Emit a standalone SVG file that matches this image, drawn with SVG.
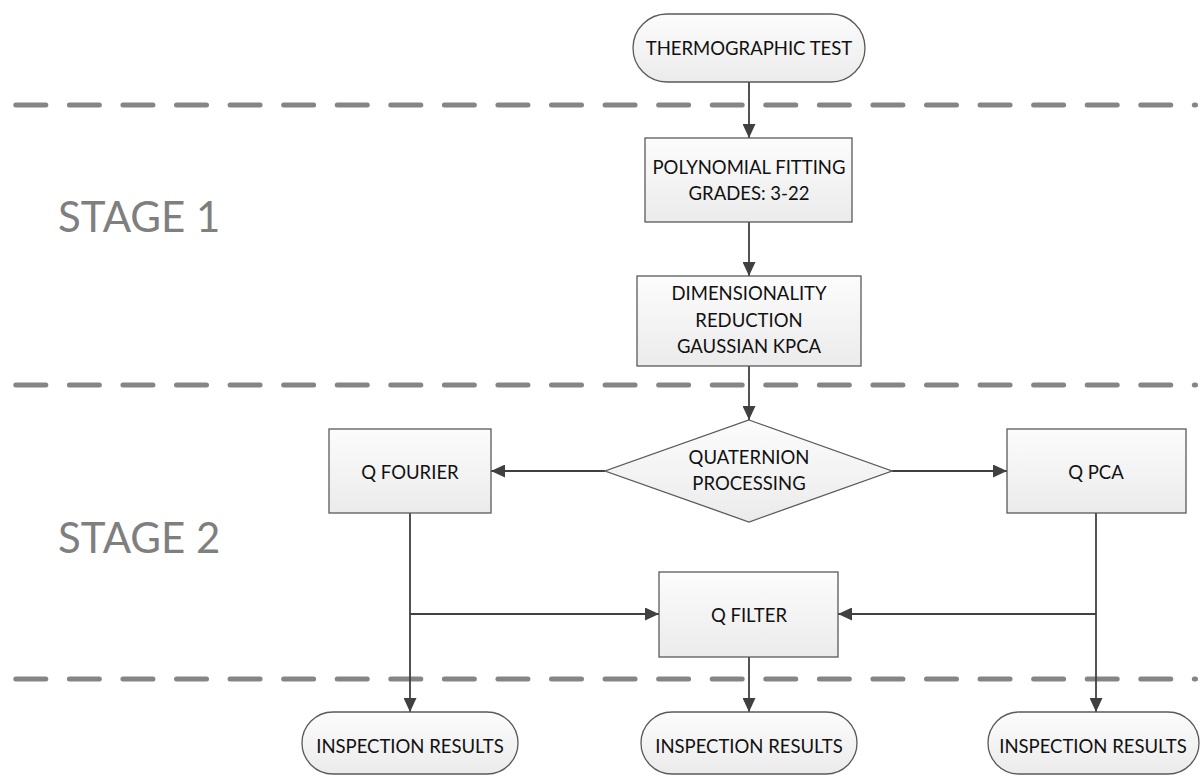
<svg xmlns="http://www.w3.org/2000/svg" width="1203" height="776" viewBox="0 0 1203 776">
<defs>
<linearGradient id="g" x1="0" y1="0" x2="0" y2="1">
<stop offset="0" stop-color="#fcfcfc"/>
<stop offset="1" stop-color="#ebebeb"/>
</linearGradient>
<marker id="ah" viewBox="0 0 14 13" refX="14" refY="6.5" markerWidth="14" markerHeight="13" markerUnits="userSpaceOnUse" orient="auto">
<path d="M0,0 L14,6.5 L0,13 Z" fill="#404040"/>
</marker>
</defs>
<style>
.n{fill:url(#g);stroke:#5a5a5a;stroke-width:1.3}
.t{font-family:Lato,"Liberation Sans",sans-serif;font-size:18.5px;fill:#111;text-anchor:middle}
.s{font-family:Lato,"Liberation Sans",sans-serif;font-size:42px;fill:#7f7f7f}
.d{stroke:#858585;stroke-width:5;stroke-linecap:round;stroke-dasharray:30 23.57;fill:none}
.c{stroke:#404040;stroke-width:1.8;fill:none}
.a{marker-end:url(#ah)}
</style>
<rect width="1203" height="776" fill="#fff"/>
<g id="separators">
<line class="d" x1="15.8" y1="105" x2="1195.5" y2="105"/>
<line class="d" x1="15.8" y1="385" x2="1195.5" y2="385"/>
<line class="d" x1="15.8" y1="679" x2="1195.5" y2="679"/>
</g>
<g id="stage1"><text class="s" x="58" y="232">STAGE 1</text></g>
<g id="stage2"><text class="s" x="58" y="553">STAGE 2</text></g>
<g id="connectors">
<path class="c a" d="M749,82 V138"/>
<path class="c a" d="M749,222 V276"/>
<path class="c a" d="M749,366 V420"/>
<path class="c a" d="M605,471 H491"/>
<path class="c a" d="M892,471 H1007"/>
<path class="c a" d="M410,513 V712"/>
<path class="c a" d="M410,614 H659"/>
<path class="c a" d="M1096,513 V712"/>
<path class="c a" d="M1096,614 H838"/>
<path class="c a" d="M749,657 V712"/>
</g>
<g id="thermo">
<rect class="n" x="633" y="14" width="232" height="68" rx="34"/>
<text class="t" x="749" y="55">THERMOGRAPHIC TEST</text>
</g>
<g id="poly">
<rect class="n" x="645" y="138" width="207" height="84"/>
<text class="t" x="749" y="174">POLYNOMIAL FITTING</text>
<text class="t" x="749" y="200">GRADES: 3-22</text>
</g>
<g id="dimred">
<rect class="n" x="637" y="276" width="224" height="90"/>
<text class="t" x="749" y="300">DIMENSIONALITY</text>
<text class="t" x="749" y="327">REDUCTION</text>
<text class="t" x="749" y="353">GAUSSIAN KPCA</text>
</g>
<g id="quat">
<polygon class="n" points="749,420 892,471 749,522 605,471"/>
<text class="t" x="749" y="464">QUATERNION</text>
<text class="t" x="749" y="490">PROCESSING</text>
</g>
<g id="qfourier">
<rect class="n" x="329" y="429" width="162" height="84"/>
<text class="t" x="410" y="479">Q FOURIER</text>
</g>
<g id="qpca">
<rect class="n" x="1007" y="429" width="179" height="84"/>
<text class="t" x="1096" y="479">Q PCA</text>
</g>
<g id="qfilter">
<rect class="n" x="659" y="572" width="179" height="85"/>
<text class="t" x="749" y="622">Q FILTER</text>
</g>
<g id="res1">
<rect class="n" x="302" y="712" width="216" height="62" rx="31"/>
<text class="t" x="410" y="753">INSPECTION RESULTS</text>
</g>
<g id="res2">
<rect class="n" x="641" y="712" width="216" height="62" rx="31"/>
<text class="t" x="749" y="753">INSPECTION RESULTS</text>
</g>
<g id="res3">
<rect class="n" x="988" y="712" width="211" height="62" rx="31"/>
<text class="t" x="1093" y="753">INSPECTION RESULTS</text>
</g>
</svg>
